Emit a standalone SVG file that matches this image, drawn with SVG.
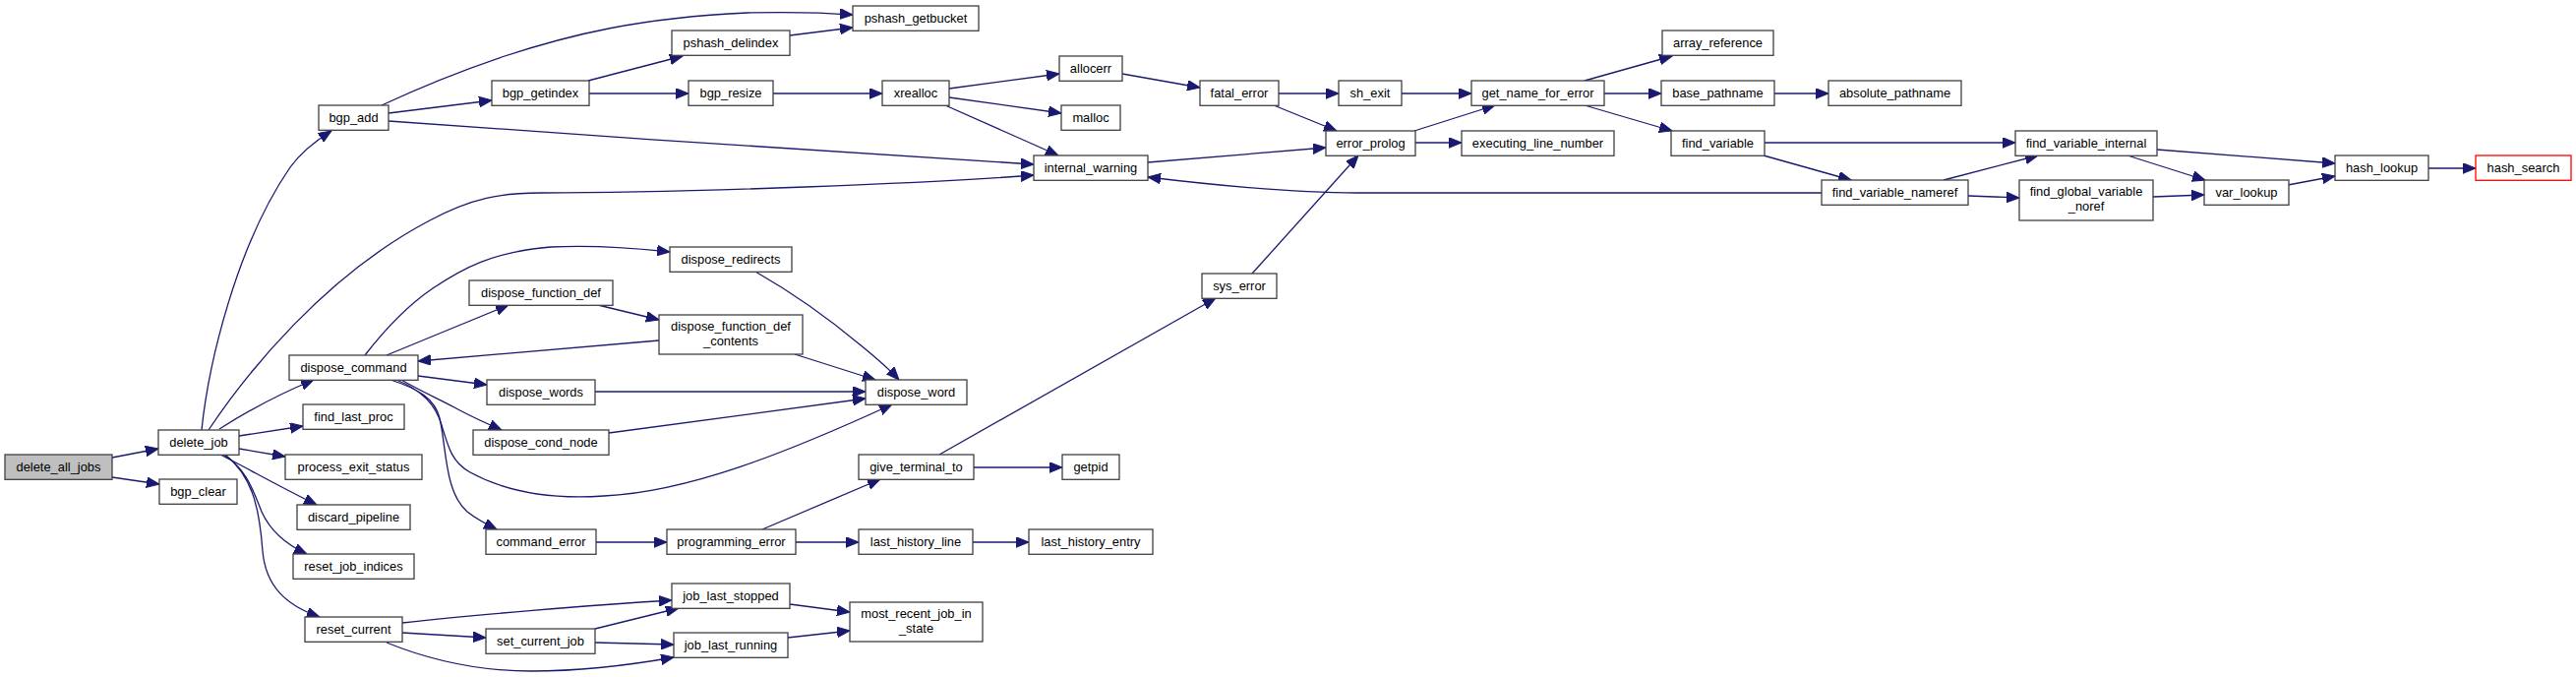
<svg xmlns="http://www.w3.org/2000/svg" width="2619" height="688" viewBox="0 0 2619 688">
<defs>
<marker id="a" markerUnits="userSpaceOnUse" markerWidth="14" markerHeight="11" refX="13" refY="5.3" orient="auto">
<path d="M0,0 L13,5.3 L0,10.6 z" fill="#191970" stroke="#191970" stroke-width="1"/>
</marker>
<style>
.n rect{fill:#fff;stroke:#404040;stroke-width:1.3}
.n text{font-family:"Liberation Sans",Arial,sans-serif;font-size:12.9px;text-anchor:middle;fill:#000}
#edges path{fill:none;stroke:#191970;stroke-width:1.3;marker-end:url(#a)}
</style>
</defs>
<rect width="2619" height="688" fill="#fff"/>
<g id="edges">
<path d="M114,465 L161,456"/>
<path d="M114,485 L162,492"/>
<path d="M205,437 C212,370 240,250 295,170 C305,156 318,145 337,133"/>
<path d="M212,437 C250,380 330,280 437,224 C480,201 510,196 550,196 C700,196 950,186 1051,178"/>
<path d="M223,436 C245,422 280,402 319,386"/>
<path d="M243,443 L308,433"/>
<path d="M243,456 L290,464"/>
<path d="M224,462 C250,475 285,495 322,513"/>
<path d="M227,462 C250,475 258,500 266,520 C275,540 290,553 312,563"/>
<path d="M229,462 C258,485 264,520 267,560 C270,595 290,615 325,627"/>
<path d="M371,361 C395,330 415,310 440,293 C470,273 500,256 560,251 C600,249 645,252 681,256"/>
<path d="M393,361 L517,310"/>
<path d="M425,382 L495,391"/>
<path d="M408,386 C425,396 445,405 462,414 C478,423 494,430 510,437"/>
<path d="M403,386 C430,397 443,412 449,432 C456,456 460,470 478,480 C520,503 570,507 614,504 C700,500 800,460 907,411"/>
<path d="M397,386 C425,395 442,405 447,425 C454,455 452,500 475,520 C485,528 495,533 505,538"/>
<path d="M608,310 L670,325"/>
<path d="M670,346 L425,367"/>
<path d="M768,276 C810,300 850,330 874,350 C890,363 903,374 914,386"/>
<path d="M808,360 L890,386"/>
<path d="M605,398 L880,398"/>
<path d="M619,440 L880,405"/>
<path d="M606,551 L678,551"/>
<path d="M775,538 L895,487"/>
<path d="M809,551 L873,551"/>
<path d="M955,462 L1236,303"/>
<path d="M990,475 L1080,475"/>
<path d="M989,551 L1046,551"/>
<path d="M1273,278 L1381,158"/>
<path d="M409,633 C480,625 600,615 683,610"/>
<path d="M409,643 L494,648"/>
<path d="M393,653 C430,668 480,682 540,682 C590,682 640,676 685,668"/>
<path d="M605,639 L690,618"/>
<path d="M605,653 L685,655"/>
<path d="M803,614 L864,622"/>
<path d="M801,648 L864,641"/>
<path d="M388,107 C420,92 460,75 510,58 C580,35 650,18 760,13 C800,12 840,13 867,15"/>
<path d="M395,115 L500,102"/>
<path d="M395,123 C600,138 900,158 1051,167"/>
<path d="M598,82 L694,57"/>
<path d="M599,95 L700,95"/>
<path d="M803,36 L867,28"/>
<path d="M786,95 L897,95"/>
<path d="M965,90 L1077,75"/>
<path d="M965,99 L1079,115"/>
<path d="M961,107 L1076,158"/>
<path d="M1141,75 L1220,89"/>
<path d="M1300,95 L1361,95"/>
<path d="M1295,107 L1359,133"/>
<path d="M1167,165 L1348,150"/>
<path d="M1425,95 L1496,95"/>
<path d="M1438,133 L1520,107"/>
<path d="M1439,145 L1486,145"/>
<path d="M1611,82 L1700,57"/>
<path d="M1631,95 L1689,95"/>
<path d="M1611,107 L1700,133"/>
<path d="M1804,95 L1859,95"/>
<path d="M1794,145 L2049,145"/>
<path d="M1793,158 L1882,183"/>
<path d="M1976,183 L2072,158"/>
<path d="M2001,199 L2053,201"/>
<path d="M1852,196 L1380,196 C1330,196 1250,190 1167,180"/>
<path d="M2193,152 L2374,166"/>
<path d="M2163,158 L2242,183"/>
<path d="M2189,200 L2241,198"/>
<path d="M2326,188 L2374,179"/>
<path d="M2469,171 L2517,171"/>
</g>
<g id="delete_all_jobs" class="n"><rect x="5" y="462" width="109" height="25.3" style="fill:#bfbfbf"/><text x="59.5" y="479">delete_all_jobs</text></g>
<g id="delete_job" class="n"><rect x="161" y="437" width="82" height="25.3"/><text x="202" y="454">delete_job</text></g>
<g id="bgp_clear" class="n"><rect x="162" y="487" width="79" height="25.3"/><text x="201.5" y="504">bgp_clear</text></g>
<g id="bgp_add" class="n"><rect x="324" y="107" width="71" height="25.3"/><text x="359.5" y="124">bgp_add</text></g>
<g id="dispose_command" class="n"><rect x="294" y="361" width="131" height="25.3"/><text x="359.5" y="378">dispose_command</text></g>
<g id="find_last_proc" class="n"><rect x="308" y="411" width="103" height="25.3"/><text x="359.5" y="428">find_last_proc</text></g>
<g id="process_exit_status" class="n"><rect x="290" y="462" width="139" height="25.3"/><text x="359.5" y="479">process_exit_status</text></g>
<g id="discard_pipeline" class="n"><rect x="302" y="513" width="115" height="25.3"/><text x="359.5" y="530">discard_pipeline</text></g>
<g id="reset_job_indices" class="n"><rect x="298" y="563" width="123" height="25.3"/><text x="359.5" y="580">reset_job_indices</text></g>
<g id="reset_current" class="n"><rect x="310" y="627" width="99" height="25.3"/><text x="359.5" y="644">reset_current</text></g>
<g id="bgp_getindex" class="n"><rect x="500" y="82" width="99" height="25.3"/><text x="549.5" y="99">bgp_getindex</text></g>
<g id="pshash_delindex" class="n"><rect x="683" y="31" width="120" height="25.3"/><text x="743" y="48">pshash_delindex</text></g>
<g id="pshash_getbucket" class="n"><rect x="867" y="6" width="128" height="25.3"/><text x="931" y="23">pshash_getbucket</text></g>
<g id="bgp_resize" class="n"><rect x="700" y="82" width="86" height="25.3"/><text x="743" y="99">bgp_resize</text></g>
<g id="xrealloc" class="n"><rect x="897" y="82" width="68" height="25.3"/><text x="931" y="99">xrealloc</text></g>
<g id="allocerr" class="n"><rect x="1077" y="57" width="64" height="25.3"/><text x="1109" y="74">allocerr</text></g>
<g id="malloc" class="n"><rect x="1079" y="107" width="60" height="25.3"/><text x="1109" y="124">malloc</text></g>
<g id="internal_warning" class="n"><rect x="1051" y="158" width="116" height="25.3"/><text x="1109" y="175">internal_warning</text></g>
<g id="fatal_error" class="n"><rect x="1220" y="82" width="80" height="25.3"/><text x="1260" y="99">fatal_error</text></g>
<g id="sys_error" class="n"><rect x="1222" y="278" width="76" height="25.3"/><text x="1260" y="295">sys_error</text></g>
<g id="sh_exit" class="n"><rect x="1361" y="82" width="64" height="25.3"/><text x="1393" y="99">sh_exit</text></g>
<g id="error_prolog" class="n"><rect x="1348" y="133" width="91" height="25.3"/><text x="1393.5" y="150">error_prolog</text></g>
<g id="get_name_for_error" class="n"><rect x="1496" y="82" width="135" height="25.3"/><text x="1563.5" y="99">get_name_for_error</text></g>
<g id="executing_line_number" class="n"><rect x="1486" y="133" width="155" height="25.3"/><text x="1563.5" y="150">executing_line_number</text></g>
<g id="array_reference" class="n"><rect x="1690" y="31" width="113" height="25.3"/><text x="1746.5" y="48">array_reference</text></g>
<g id="base_pathname" class="n"><rect x="1689" y="82" width="115" height="25.3"/><text x="1746.5" y="99">base_pathname</text></g>
<g id="find_variable" class="n"><rect x="1699" y="133" width="95" height="25.3"/><text x="1746.5" y="150">find_variable</text></g>
<g id="absolute_pathname" class="n"><rect x="1859" y="82" width="135" height="25.3"/><text x="1926.5" y="99">absolute_pathname</text></g>
<g id="find_variable_nameref" class="n"><rect x="1852" y="183" width="149" height="25.3"/><text x="1926.5" y="200">find_variable_nameref</text></g>
<g id="find_variable_internal" class="n"><rect x="2049" y="133" width="144" height="25.3"/><text x="2121" y="150">find_variable_internal</text></g>
<g id="find_global_variable_noref" class="n"><rect x="2053" y="183" width="136" height="41"/><text x="2121" y="199">find_global_variable</text><text x="2121" y="214">_noref</text></g>
<g id="var_lookup" class="n"><rect x="2241" y="183" width="86" height="25.3"/><text x="2284" y="200">var_lookup</text></g>
<g id="hash_lookup" class="n"><rect x="2374" y="158" width="95" height="25.3"/><text x="2421.5" y="175">hash_lookup</text></g>
<g id="hash_search" class="n"><rect x="2517" y="158" width="97" height="25.3" style="stroke:#ff0000"/><text x="2565.5" y="175">hash_search</text></g>
<g id="dispose_redirects" class="n"><rect x="681" y="251" width="124" height="25.3"/><text x="743" y="268">dispose_redirects</text></g>
<g id="dispose_function_def" class="n"><rect x="477" y="285" width="146" height="25.3"/><text x="550" y="302">dispose_function_def</text></g>
<g id="dispose_function_def_contents" class="n"><rect x="670" y="320" width="146" height="40"/><text x="743" y="336">dispose_function_def</text><text x="743" y="351">_contents</text></g>
<g id="dispose_words" class="n"><rect x="495" y="386" width="110" height="25.3"/><text x="550" y="403">dispose_words</text></g>
<g id="dispose_cond_node" class="n"><rect x="481" y="437" width="138" height="25.3"/><text x="550" y="454">dispose_cond_node</text></g>
<g id="dispose_word" class="n"><rect x="880" y="386" width="103" height="25.3"/><text x="931.5" y="403">dispose_word</text></g>
<g id="command_error" class="n"><rect x="494" y="538" width="112" height="25.3"/><text x="550" y="555">command_error</text></g>
<g id="programming_error" class="n"><rect x="678" y="538" width="131" height="25.3"/><text x="743.5" y="555">programming_error</text></g>
<g id="give_terminal_to" class="n"><rect x="873" y="462" width="117" height="25.3"/><text x="931.5" y="479">give_terminal_to</text></g>
<g id="getpid" class="n"><rect x="1080" y="462" width="58" height="25.3"/><text x="1109" y="479">getpid</text></g>
<g id="last_history_line" class="n"><rect x="873" y="538" width="116" height="25.3"/><text x="931" y="555">last_history_line</text></g>
<g id="last_history_entry" class="n"><rect x="1046" y="538" width="126" height="25.3"/><text x="1109" y="555">last_history_entry</text></g>
<g id="job_last_stopped" class="n"><rect x="683" y="593" width="120" height="25.3"/><text x="743" y="610">job_last_stopped</text></g>
<g id="set_current_job" class="n"><rect x="494" y="639" width="111" height="25.3"/><text x="549.5" y="656">set_current_job</text></g>
<g id="job_last_running" class="n"><rect x="685" y="643" width="116" height="25.3"/><text x="743" y="660">job_last_running</text></g>
<g id="most_recent_job_in_state" class="n"><rect x="864" y="612" width="135" height="40"/><text x="931.5" y="628">most_recent_job_in</text><text x="931.5" y="643">_state</text></g>
</svg>
